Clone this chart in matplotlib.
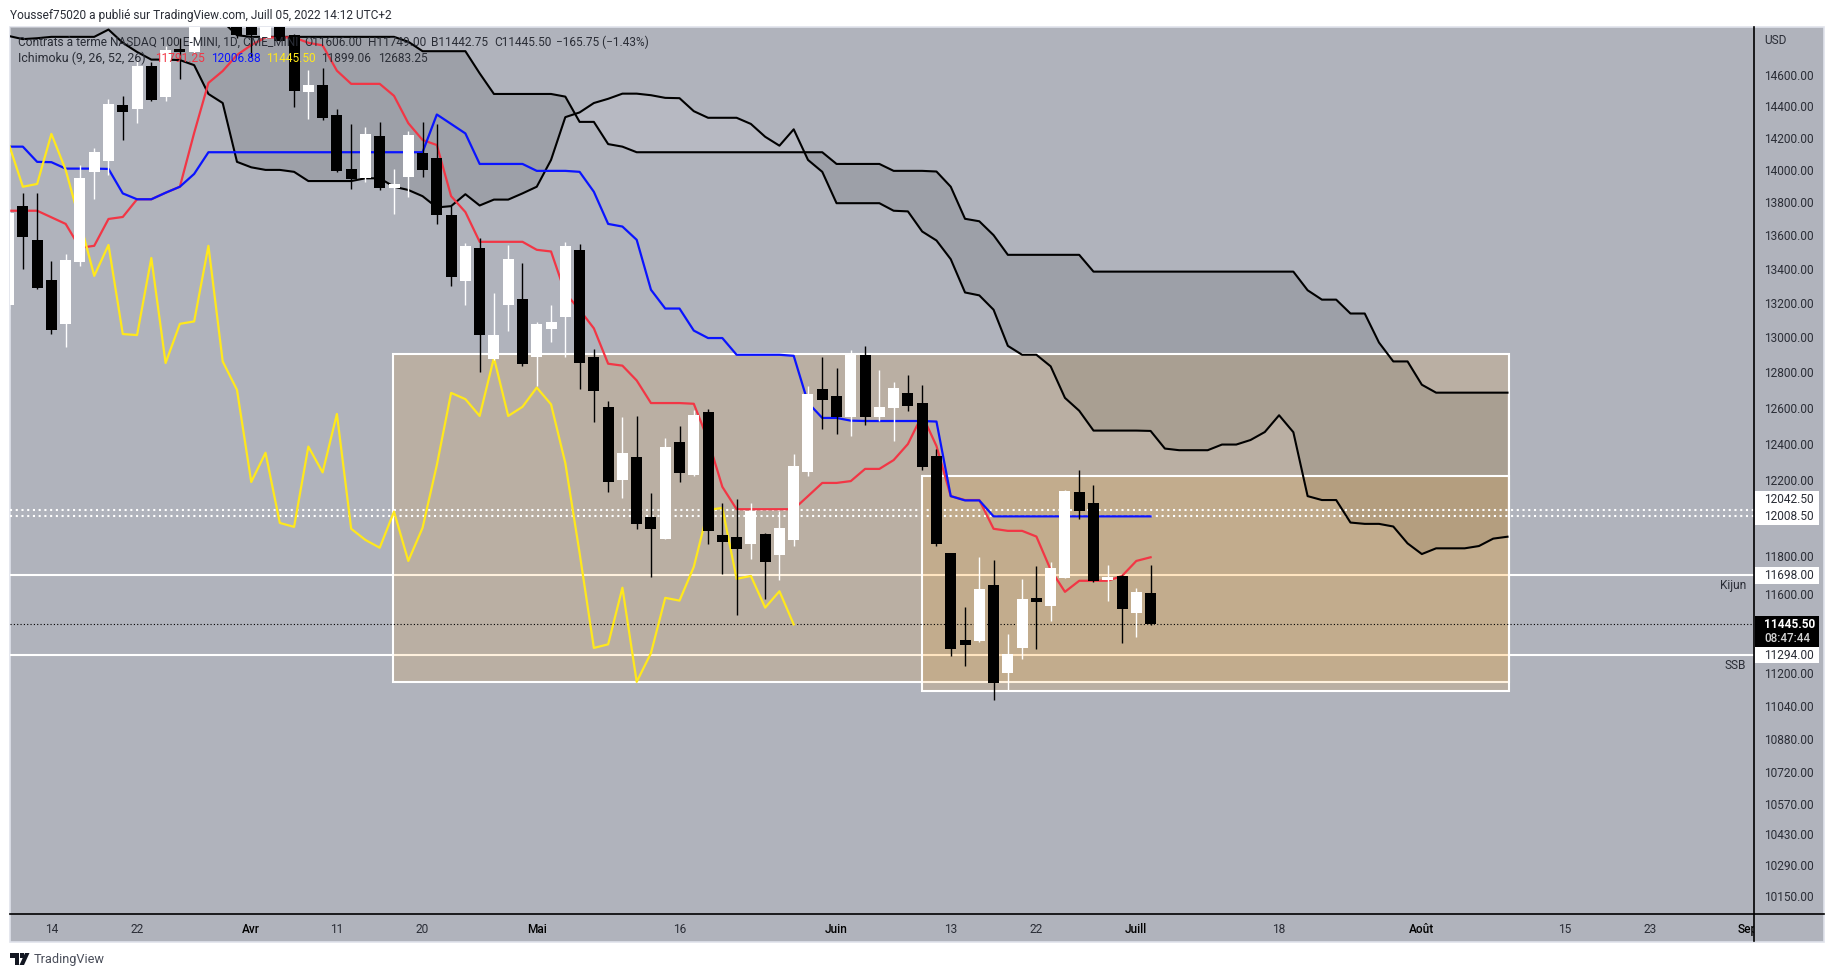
import numpy as np
import matplotlib
matplotlib.use("Agg")
import matplotlib.pyplot as plt
from matplotlib.lines import Line2D
from matplotlib.patches import Rectangle, Polygon
from matplotlib.transforms import Bbox

plt.rcParams['font.family'] = ['Roboto', 'DejaVu Sans']

W, H = 1834, 977
BG = '#B0B3BC'
TXT = '#2A2D36'
FS = 8.6

# daily bars, first one is cut by the left edge (index -1)
opens = [13187, 13776, 13572, 13333, 13076, 13440, 13987, 14055, 14409, 14383,
         14658, 14460, 14770, 14750, 15100, 15150, 15000, 15000, 14843, 15000,
         14860, 14492, 14536, 14345, 14005, 13949, 14211, 13886, 13955, 14105,
         14074, 13722, 13327, 13524, 12875, 13187, 13222, 12888, 13046, 13117,
         13512, 12887, 12603, 12200, 12328, 12004, 11888, 12409, 12227, 12575,
         11909, 11898, 11860, 11914, 11803, 11882, 12243, 12705, 12665, 12548,
         12898, 12548, 12597, 12682, 12625, 12332, 11814, 11365, 11360, 11648,
         11202, 11326, 11581, 11539, 11684, 12136, 12078, 11674, 11694, 11504,
         11606]
closes = [13734, 13586, 13286, 13041, 13452, 13949, 14111, 14415, 14364, 14658,
          14440, 14762, 14750, 15000, 15000, 15050, 14860, 14860, 15000, 14823,
          14500, 14536, 14326, 13993, 13943, 14224, 13886, 13912, 14217, 13999,
          13722, 13351, 13536, 13011, 13011, 13458, 12847, 13076, 13088, 13536,
          12851, 12693, 12189, 12350, 11967, 11941, 12384, 12238, 12560, 11930,
          11871, 11834, 12036, 11767, 11946, 12277, 12677, 12642, 12548, 12909,
          12548, 12603, 12711, 12608, 12271, 11860, 11321, 11341, 11627, 11153,
          11296, 11576, 11560, 11736, 12142, 12036, 11669, 11689, 11524, 11612,
          11445.5]
highs = [13770, 13854, 13854, 13446, 13488, 14030, 14136, 14447, 14466, 14698,
         14685, 14790, 14840, 15100, 15150, 15200, 15050, 15050, 15050, 15050,
         14870, 14632, 14645, 14383, 14285, 14268, 14298, 14005, 14243, 14298,
         14285, 13776, 13554, 13584, 13258, 13542, 13434, 13088, 13187, 13560,
         13548, 12932, 12636, 12548, 12553, 12131, 12432, 12498, 12586, 12592,
         12078, 12100, 12078, 11919, 12036, 12343, 12722, 12887, 12824, 12926,
         12949, 12813, 12745, 12784, 12727, 12370, 11815, 11535, 11793, 11777,
         11395, 11679, 11746, 11767, 12147, 12258, 12173, 11751, 11698, 11633,
         11749]
lows = [13160, 13400, 13282, 13017, 12945, 13416, 13818, 13968, 14186, 14294,
        14435, 14434, 14575, 14745, 14950, 15000, 14840, 14720, 14843, 14820,
        14396, 14319, 14313, 13987, 13880, 13924, 13875, 13728, 13832, 13955,
        13668, 13298, 13187, 12800, 12870, 13034, 12836, 12718, 12972, 12887,
        12705, 12522, 12136, 12105, 11941, 11689, 11885, 12189, 12225, 11860,
        11705, 11493, 11782, 11576, 11674, 11850, 12221, 12481, 12454, 12443,
        12503, 12525, 12415, 12580, 12255, 11850, 11287, 11237, 11355, 11069,
        11118, 11272, 11321, 11462, 11682, 11994, 11664, 11565, 11351, 11380,
        11442.75]

# Ichimoku lines, all start at index -1
tenkan = [13748, 13748, 13748, 13708, 13668, 13524, 13536, 13698, 13710, 13818,
          13818, 13858, 13895, 14230, 14549, 14626, 14730, 14795, 14845, 14845,
          14845, 14810, 14793, 14628, 14543, 14543, 14543, 14466, 14292, 14186,
          14154, 13837, 13740, 13560, 13560, 13560, 13560, 13512, 13502, 13255,
          13158, 13050, 12847, 12836, 12752, 12625, 12625, 12625, 12621, 12421,
          12165, 12045, 12045, 12045, 12045, 12045, 12115, 12186, 12186, 12196,
          12262, 12262, 12310, 12398, 12558, 12387, 12115, 12094, 12094, 11941,
          11930, 11930, 11900, 11726, 11612, 11669, 11669, 11669, 11694, 11772,
          11791.25]
kijun = [14144, 14144, 14049, 14047, 14007, 14007, 14007, 14005, 13854, 13818,
         13818, 13858, 13895, 13974, 14109, 14109, 14109, 14109, 14109, 14109,
         14109, 14109, 14109, 14109, 14109, 14109, 14109, 14109, 14109, 14109,
         14347, 14287, 14227, 14036, 14036, 14036, 14036, 13993, 13993, 13993,
         13987, 13864, 13668, 13652, 13572, 13275, 13165, 13165, 13037, 12994,
         12994, 12898, 12898, 12898, 12898, 12892, 12627, 12542, 12542, 12527,
         12525, 12525, 12525, 12525, 12525, 12522, 12115, 12092, 12092, 12006.88,
         12006.88, 12006.88, 12006.88, 12006.88, 12006.88, 12006.88, 12006.88, 12006.88, 12006.88, 12006.88,
         12006.88]
chikou = [14165, 13895, 13912, 14224, 13999, 13682, 13357, 13541, 13017, 13011,
          13463, 12851, 13076, 13090, 13536, 12860, 12699, 12191, 12350, 11972,
          11951, 12384, 12243, 12564, 11941, 11882, 11841, 12032, 11772, 11946,
          12283, 12682, 12647, 12553, 12881, 12553, 12604, 12712, 12618, 12294,
          11814, 11327, 11345, 11633, 11158, 11301, 11581, 11567, 11741, 12041,
          12052, 11679, 11694, 11531, 11615, 11445.5]
senkou_a = [14855, 14834, 14840, 14849, 14849, 14849, 14849, 14897, 14810, 14750,
            14700, 14700, 14697, 14664, 14478, 14420, 14049, 14015, 13999, 13999,
            13987, 13930, 13930, 13930, 13930, 13947, 13947, 13895, 13875, 13837,
            13768, 13776, 13849, 13780, 13816, 13816, 13854, 13895, 14061, 14330,
            14360, 14420, 14447, 14480, 14480, 14470, 14453, 14451, 14368, 14326,
            14326, 14326, 14287, 14206, 14150, 14253, 14061, 13987, 13794, 13794,
            13794, 13794, 13748, 13744, 13622, 13568, 13456, 13259, 13242, 13158,
            12949, 12898, 12898, 12832, 12654, 12582, 12472, 12472, 12472, 12472,
            12470, 12373, 12364, 12364, 12364, 12395, 12395, 12420, 12464, 12557,
            12463, 12115, 12094, 12094, 11974, 11967, 11967, 11953, 11864, 11808,
            11838, 11838, 11838, 11850, 11889, 11899.06]
senkou_b = [15050, 15050, 15050, 15050, 15050, 15050, 15050, 15050, 15050, 15050,
            15050, 15050, 15050, 15050, 15050, 14950, 14860, 14849, 14849, 14849,
            14849, 14849, 14849, 14849, 14849, 14849, 14849, 14849, 14817, 14755,
            14755, 14755, 14755, 14611, 14478, 14478, 14478, 14478, 14478, 14461,
            14300, 14300, 14160, 14144, 14109, 14109, 14109, 14109, 14109, 14109,
            14109, 14109, 14109, 14109, 14109, 14109, 14109, 14109, 14036, 14036,
            14036, 14036, 13993, 13993, 13993, 13989, 13895, 13699, 13684, 13600,
            13482, 13482, 13482, 13482, 13482, 13482, 13382, 13382, 13382, 13382,
            13382, 13382, 13382, 13382, 13382, 13382, 13382, 13382, 13382, 13382,
            13382, 13272, 13217, 13217, 13136, 13136, 12968, 12860, 12860, 12728,
            12683.25, 12683.25, 12683.25, 12683.25, 12683.25, 12683.25]

# horizontal levels and the two boxes
level_solid = [11698.0, 11294.0]
level_dotted = [12042.5, 12008.5]
last_price = 11445.5
box_left = [25.9, 62.96]
box_right = [104.1, 104.1]
box_top = [12901, 12224]
box_bottom = [11158, 11113]

ytick_vals = [14600, 14400, 14200, 14000, 13800, 13600, 13400, 13200, 13000, 12800,
              12600, 12400, 12200, 11800, 11600, 11200, 11040, 10880, 10720, 10570,
              10430, 10290, 10150]
xtick_pos = [2, 8, 16, 22, 28, 36, 46, 57, 65, 71, 78, 88, 98, 108, 114, 120.8]
xtick_labels = ['14', '22', 'Avr', '11', '20', 'Mai', '16', 'Juin', '13', '22',
                'Juill', '18', 'Août', '15', '23', 'Sep']
month_labels = ['Avr', 'Mai', 'Juin', 'Juill', 'Août', 'Sep']


def fx(x):
    return x / W


def fy(y):
    return 1 - y / H


fig = plt.figure(figsize=(W / 100, H / 100), dpi=100, facecolor='white')

# grey panel behind chart and scales
fig.add_artist(Rectangle((fx(9.5), fy(941.5)), fx(1814.5), 915 / H, transform=fig.transFigure,
                         facecolor=BG, edgecolor='#E0E3EB', linewidth=1.2, zorder=-5))

ax = fig.add_axes([fx(10), fy(914.3), fx(1744.3), 887.3 / H])
ax.set_facecolor('none')
ax.set_yscale('log')
ax.set_xlim(-0.9, 121.29)
ax.set_ylim(10066, 14914)
for s in ax.spines.values():
    s.set_visible(False)

idx = np.arange(len(opens)) - 1
o = np.array(opens)
c = np.array(closes)
up = c >= o

# cloud
xc = np.arange(len(senkou_a)) - 1
sa = np.array(senkou_a)
sb = np.array(senkou_b)
ax.fill_between(xc, sa, sb, where=sa <= sb, interpolate=True, color='black', alpha=0.105, lw=0, zorder=1)
ax.fill_between(xc, sa, sb, where=sa > sb, interpolate=True, color='white', alpha=0.09, lw=0, zorder=1)
ax.plot(xc, sa, color='black', lw=1.5, zorder=4)
ax.plot(xc, sb, color='black', lw=1.5, zorder=4)

# levels
for p in level_solid:
    ax.axhline(p, color='white', lw=1.5, zorder=2)

# boxes
for i in range(len(box_left)):
    ax.add_patch(Rectangle((box_left[i], box_bottom[i]), box_right[i] - box_left[i],
                           box_top[i] - box_bottom[i], facecolor=(1.0, 0.6, 0.0, 0.13),
                           edgecolor='white', linewidth=1.5, zorder=3))

for p in level_dotted:
    ax.axhline(p, color='white', lw=1.5, ls=(0, (1, 1.75)), zorder=3.5)
ax.axhline(last_price, color='black', lw=0.8, ls=(0, (1, 2)), zorder=3.5)

ax.plot(np.arange(len(tenkan)) - 1, tenkan, color='#F23645', lw=1.6, zorder=4)
ax.plot(np.arange(len(kijun)) - 1, kijun, color='#0A14FF', lw=1.6, zorder=4)
ax.plot(np.arange(len(chikou)) - 1, chikou, color='#FFE81C', lw=1.6, zorder=4)

# candles
colors = ['white' if u else 'black' for u in up]
ax.vlines(idx, lows, highs, colors=colors, lw=1.0, zorder=5)
ax.bar(idx, np.abs(c - o), bottom=np.minimum(o, c), width=0.77, color=colors, linewidth=0, zorder=5)

# scales
ax.yaxis.tick_right()
ax.set_yticks(ytick_vals, ['%.2f' % v for v in ytick_vals])
ax.minorticks_off()
ax.tick_params(axis='y', length=0, pad=7, labelsize=FS, labelcolor=TXT)
ax.set_xticks(xtick_pos, xtick_labels)
ax.tick_params(axis='x', length=0, pad=6, labelsize=FS, labelcolor=TXT)
clip = Bbox.from_extents(0, 0, 1754.3, H)
for lab in ax.get_xticklabels():
    lab.set_clip_on(True)
    lab.set_clip_box(clip)
    if lab.get_text() in month_labels:
        lab.set_color('black')
        lab.set_fontweight('medium')

fig.add_artist(Line2D([fx(1754.3), fx(1754.3)], [fy(27), fy(941)], color='black', lw=1.2))
fig.add_artist(Line2D([fx(10), fx(1823.5)], [fy(914.3), fy(914.3)], color='black', lw=1.2))

fig.text(fx(1764), fy(40.7), 'USD', fontsize=FS, color=TXT, va='center')


# white / black price tags on the right scale
def tag(top, bottom, face):
    fig.add_artist(Rectangle((fx(1755), fy(bottom)), fx(64), (bottom - top) / H,
                             transform=fig.transFigure, facecolor=face, linewidth=0, zorder=6))


def ypix(p):
    return H - ax.transData.transform((0, p))[1]


tag(ypix(level_dotted[0]) - 19, ypix(level_dotted[1]) + 9, 'white')
tag(ypix(level_solid[0]) - 8, ypix(level_solid[0]) + 8.5, 'white')
tag(ypix(last_price) - 8.5, ypix(last_price) + 22.5, 'black')
tag(ypix(level_solid[1]) - 8, ypix(level_solid[1]) + 8.5, 'white')

tag_y = [ypix(level_dotted[0]) - 10.5, ypix(level_dotted[1]) + 0.5, ypix(level_solid[0]), ypix(level_solid[1]) + 0.5]
tag_txt = ['%.2f' % p for p in [level_dotted[0], level_dotted[1], level_solid[0], level_solid[1]]]
for y, t in zip(tag_y, tag_txt):
    fig.text(fx(1764), fy(y), t, fontsize=FS, color=TXT, va='center', zorder=7)
fig.text(fx(1764), fy(ypix(last_price) + 0.5), '%.2f' % last_price, fontsize=FS, color='white',
         fontweight='bold', va='center', zorder=7)
fig.text(fx(1764), fy(ypix(last_price) + 14.5), '08:47:44', fontsize=8.4, color='#D6D6D6',
         fontweight='medium', va='center', zorder=7)

fig.text(fx(1746), fy(ypix(level_solid[0]) + 10.5), 'Kijun', fontsize=FS, color=TXT, ha='right', va='center')
fig.text(fx(1746), fy(ypix(level_solid[1]) + 10.5), 'SSB', fontsize=FS, color=TXT, ha='right', va='center')

# header and legend
fig.text(fx(10), fy(15), 'Youssef75020 a publié sur TradingView.com, Juill 05, 2022 14:12 UTC+2',
         fontsize=8.58, color=TXT, va='center')
fig.text(fx(18), fy(42), 'Contrats à terme NASDAQ 100 E-MINI, 1D, CME_MINI', fontsize=FS,
         color=TXT, va='center', zorder=8)
leg_vals = ['O11606.00', 'H11749.00', 'B11442.75', 'C11445.50', '−165.75 (−1.43%)']
leg_x = [304, 368, 431, 494, 556]
for x, t in zip(leg_x, leg_vals):
    fig.text(fx(x), fy(42), t, fontsize=FS, color=TXT, va='center', zorder=8)
fig.text(fx(18), fy(58.7), 'Ichimoku (9, 26, 52, 26)', fontsize=FS + 0.3, color=TXT, va='center', zorder=8)
ichi_vals = ['11791.25', '12006.88', '11445.50', '11899.06', '12683.25']
ichi_x = [155, 211, 266, 321, 378]
ichi_col = ['#F23645', '#0A14FF', '#FFE81C', TXT, TXT]
for x, t, col in zip(ichi_x, ichi_vals, ichi_col):
    fig.text(fx(x), fy(58.7), t, fontsize=FS, color=col, va='center', zorder=8)

# TradingView footer
logo = [[(10, 953), (19, 953), (19, 965), (15, 965), (15, 958), (10, 958)],
        [(25, 953), (29.5, 953), (24, 965), (19.5, 965)],
        [(20, 953), (23.5, 953), (23.5, 957.5), (20, 957.5)]]
for pts in logo:
    fig.add_artist(Polygon([(fx(x), fy(y)) for x, y in pts], closed=True, transform=fig.transFigure,
                           facecolor='#131722', linewidth=0))
fig.text(fx(33.5), fy(959), 'TradingView', fontsize=9.2, color='#4A4E5A', va='center')

fig.savefig('out.png', dpi=100)
